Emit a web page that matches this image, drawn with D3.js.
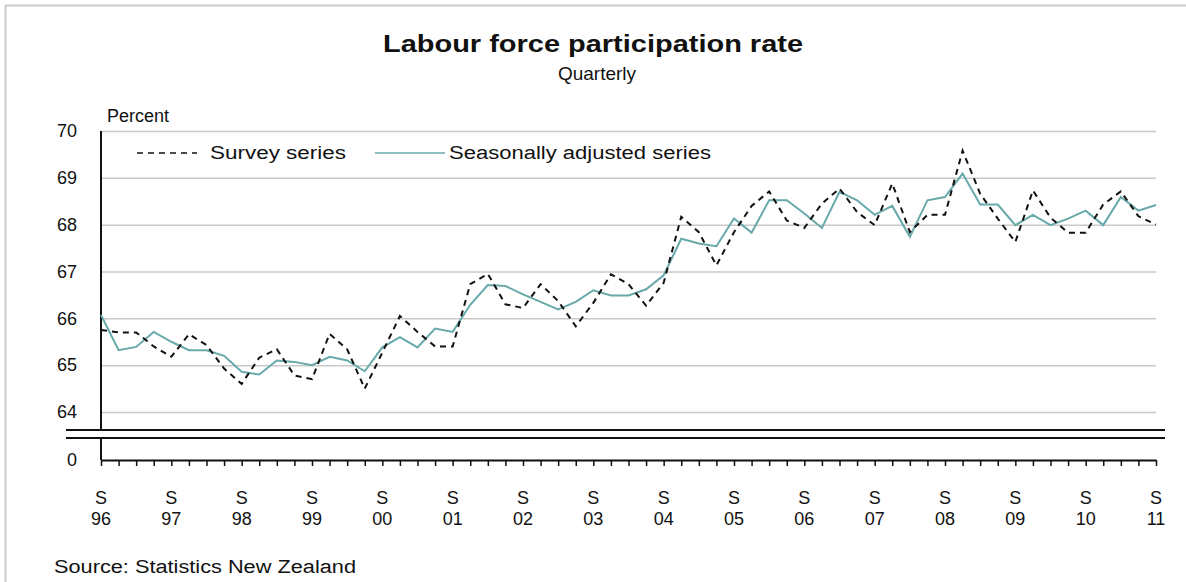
<!DOCTYPE html>
<html>
<head>
<meta charset="utf-8">
<script src="https://cdn.jsdelivr.net/npm/d3@7"></script>
<style>
  html, body { margin: 0; padding: 0; background: #fff; }
  svg { display: block; }
  text { font-family: "Liberation Sans", Arial, sans-serif; fill: #111; }
</style>
</head>
<body>
<svg id="chart" width="1186" height="582"></svg>
<script>
// ---- Data (quarterly, September 1996 to September 2011) ----
const yearLabels = ["96","97","98","99","00","01","02","03","04","05","06","07","08","09","10","11"];
const yTicks = [64, 65, 66, 67, 68, 69, 70];

const surveySeries = [
  65.75, 65.70, 65.70, 65.40, 65.18, 65.66, 65.43, 64.93, 64.60, 65.16,
  65.34, 64.78, 64.70, 65.67, 65.34, 64.50, 65.27, 66.05, 65.71, 65.40,
  65.40, 66.73, 66.95, 66.30, 66.22, 66.73, 66.37, 65.83, 66.33, 66.94,
  66.73, 66.27, 66.76, 68.17, 67.84, 67.13, 67.84, 68.40, 68.71, 68.09,
  67.93, 68.45, 68.77, 68.27, 67.99, 68.88, 67.84, 68.21, 68.21, 69.58,
  68.66, 68.13, 67.63, 68.73, 68.15, 67.83, 67.83, 68.43, 68.71, 68.18,
  68.00
];

const seasonallyAdjusted = [
  66.07, 65.32, 65.39, 65.71, 65.50, 65.32, 65.32, 65.20, 64.86, 64.80,
  65.10, 65.07, 65.00, 65.18, 65.10, 64.87, 65.38, 65.60, 65.38, 65.78,
  65.71, 66.29, 66.71, 66.69, 66.51, 66.35, 66.19, 66.35, 66.60, 66.49,
  66.49, 66.62, 66.92, 67.70, 67.60, 67.54, 68.13, 67.83, 68.52, 68.52,
  68.24, 67.93, 68.70, 68.52, 68.21, 68.40, 67.74, 68.52, 68.59, 69.09,
  68.43, 68.43, 67.99, 68.21, 67.99, 68.13, 68.30, 67.99, 68.59, 68.30,
  68.42
];

// ---- Layout ----
const svg = d3.select("#chart");
const x = d3.scaleLinear().domain([0, surveySeries.length - 1]).range([101, 1156]);
const y = d3.scaleLinear().domain([64, 70]).range([412, 131]);
const axisY0 = 460;

// frame
svg.append("path").attr("d", "M5.5,582 V5.5 H1186")
  .attr("fill", "none").attr("stroke", "#cccccc").attr("stroke-width", 2);

// title
svg.append("text").attr("x", 593).attr("y", 52).attr("text-anchor", "middle")
  .attr("font-size", 23).attr("font-weight", "bold")
  .attr("textLength", 420).attr("lengthAdjust", "spacingAndGlyphs")
  .text("Labour force participation rate");
svg.append("text").attr("x", 597).attr("y", 80).attr("text-anchor", "middle")
  .attr("font-size", 19).text("Quarterly");

// gridlines
svg.append("g").selectAll("line").data(yTicks.filter(d => d !== 70)).join("line")
  .attr("x1", x(0)).attr("x2", x(60))
  .attr("y1", d => y(d) + 0.5).attr("y2", d => y(d) + 0.5)
  .attr("stroke", "#c9c9c9").attr("stroke-width", 1.5);
svg.append("line").attr("x1", x(0)).attr("x2", x(60))
  .attr("y1", y(70) + 0.5).attr("y2", y(70) + 0.5)
  .attr("stroke", "#c9c9c9").attr("stroke-width", 1.5);

// y axis labels
const yAxis = d3.axisLeft(y).tickValues(yTicks).tickSize(0).tickPadding(24).tickFormat(d3.format("d"));
const gy = svg.append("g").attr("transform", `translate(${x(0)},0)`).call(yAxis);
gy.select(".domain").remove();
gy.selectAll("text").attr("font-size", 18).attr("fill", "#111")
  .style("font-family", "'Liberation Sans', Arial, sans-serif");
svg.append("text").attr("x", 77).attr("y", axisY0).attr("dy", "0.35em")
  .attr("text-anchor", "end").attr("font-size", 18).text("0");
svg.append("text").attr("x", 107).attr("y", 122).attr("font-size", 18).text("Percent");

// y axis line (broken)
svg.append("line").attr("x1", x(0)).attr("x2", x(0)).attr("y1", y(70)).attr("y2", 430)
  .attr("stroke", "#111").attr("stroke-width", 2);
svg.append("line").attr("x1", x(0)).attr("x2", x(0)).attr("y1", 438).attr("y2", axisY0)
  .attr("stroke", "#111").attr("stroke-width", 2);

// break lines
[430, 438].forEach(yy => {
  svg.append("line").attr("x1", 66).attr("x2", 1165).attr("y1", yy).attr("y2", yy)
    .attr("stroke", "#111").attr("stroke-width", 2);
});

// x axis
const xAxis = d3.axisBottom(x).tickValues(d3.range(surveySeries.length)).tickSize(6).tickSizeOuter(0).tickFormat("");
const gx = svg.append("g").attr("transform", `translate(0,${axisY0})`).call(xAxis);
gx.select(".domain").attr("stroke", "#111").attr("stroke-width", 2);
gx.selectAll(".tick line").attr("stroke", "#111").attr("stroke-width", 1.5);

// x labels
const lab = svg.append("g").selectAll("g").data(yearLabels).join("g")
  .attr("transform", (d, i) => `translate(${x(i * 4)},0)`);
lab.append("text").attr("y", 504).attr("text-anchor", "middle").attr("font-size", 18).text("S");
lab.append("text").attr("y", 525).attr("text-anchor", "middle").attr("font-size", 18).text(d => d);

// lines
const line = d3.line().x((d, i) => x(i)).y(d => y(d));
svg.append("path").datum(seasonallyAdjusted).attr("d", line)
  .attr("fill", "none").attr("stroke", "#68a9aa").attr("stroke-width", 2);
svg.append("path").datum(surveySeries).attr("d", line)
  .attr("fill", "none").attr("stroke", "#111").attr("stroke-width", 2)
  .attr("stroke-dasharray", "6,5");

// legend
svg.append("line").attr("x1", 137).attr("x2", 197).attr("y1", 153).attr("y2", 153)
  .attr("stroke", "#111").attr("stroke-width", 1.5).attr("stroke-dasharray", "6,5");
svg.append("text").attr("x", 210).attr("y", 159).attr("font-size", 18)
  .attr("textLength", 136).attr("lengthAdjust", "spacingAndGlyphs").text("Survey series");
svg.append("line").attr("x1", 375).attr("x2", 445).attr("y1", 153).attr("y2", 153)
  .attr("stroke", "#68a9aa").attr("stroke-width", 1.5);
svg.append("text").attr("x", 449).attr("y", 159).attr("font-size", 18)
  .attr("textLength", 262).attr("lengthAdjust", "spacingAndGlyphs").text("Seasonally adjusted series");

// source
svg.append("text").attr("x", 54).attr("y", 573).attr("font-size", 18)
  .attr("textLength", 302).attr("lengthAdjust", "spacingAndGlyphs").text("Source: Statistics New Zealand");
</script>
</body>
</html>
